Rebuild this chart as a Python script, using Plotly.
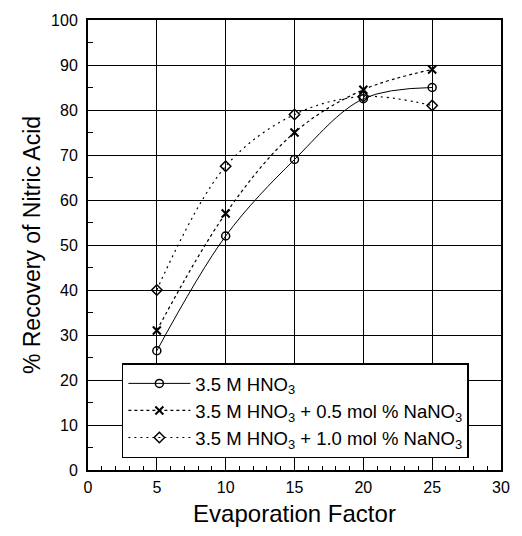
import plotly.graph_objects as go

evap = [5, 10, 15, 20, 25]
hno3 = [26.5, 52, 69, 82.5, 85]
hno3_05 = [31, 57, 75, 84.5, 89]
hno3_10 = [40, 67.5, 79, 83, 81]

names = ["3.5 M HNO<sub>3</sub>",
         "3.5 M HNO<sub>3</sub> + 0.5 mol % NaNO<sub>3</sub>",
         "3.5 M HNO<sub>3</sub> + 1.0 mol % NaNO<sub>3</sub>"]

FONT = "Liberation Sans, Arial"

fig = go.Figure()
fig.add_trace(go.Scatter(x=evap, y=hno3, name=names[0], mode="lines+markers",
                         line=dict(color="black", width=1, shape="spline", smoothing=1.0),
                         marker=dict(symbol="circle-open", size=8, color="black", line=dict(width=1.5))))
fig.add_trace(go.Scatter(x=evap, y=hno3_05, name=names[1], mode="lines+markers",
                         line=dict(color="black", width=1.2, dash="dot", shape="spline", smoothing=1.0),
                         marker=dict(symbol="x-thin-open", size=8, color="black", line=dict(width=2))))
fig.add_trace(go.Scatter(x=evap, y=hno3_10, name=names[2], mode="lines+markers",
                         line=dict(color="black", width=1.2, dash="2px,4px", shape="spline", smoothing=1.0),
                         marker=dict(symbol="diamond-open", size=8, color="black", line=dict(width=1.5))))

axis_common = dict(showline=True, linecolor="black", linewidth=2, mirror=True,
                   showgrid=True, gridcolor="black", gridwidth=1.2, zeroline=False,
                   ticks="inside", tickcolor="black",
                   tickfont=dict(family=FONT, size=16, color="black"))

fig.update_xaxes(range=[0, 30], dtick=5, tick0=0, ticklen=6, ticklabelstandoff=2,
                 minor=dict(dtick=1, ticks="inside", ticklen=4, tickcolor="black", showgrid=False),
                 title=dict(text="Evaporation Factor", font=dict(family=FONT, size=24, color="black"),
                            standoff=10),
                 **axis_common)
fig.update_yaxes(range=[0, 100], dtick=10, tick0=0, ticklen=6, ticklabelstandoff=5,
                 minor=dict(dtick=5, ticks="inside", ticklen=5, tickcolor="black", showgrid=False),
                 title=dict(text="% Recovery of Nitric Acid", font=dict(family=FONT, size=23, color="black"),
                            standoff=4),
                 **axis_common)

fig.update_layout(width=522, height=536, margin=dict(l=88, r=19, t=17, b=66),
                  plot_bgcolor="white", paper_bgcolor="white",
                  legend=dict(x=0.082, y=0.237, xanchor="left", yanchor="top",
                              bgcolor="white", bordercolor="black", borderwidth=1.5,
                              font=dict(family=FONT, size=18.5, color="black"),
                              tracegroupgap=0, itemwidth=62),
                  showlegend=True)

fig.write_html("out.html")
